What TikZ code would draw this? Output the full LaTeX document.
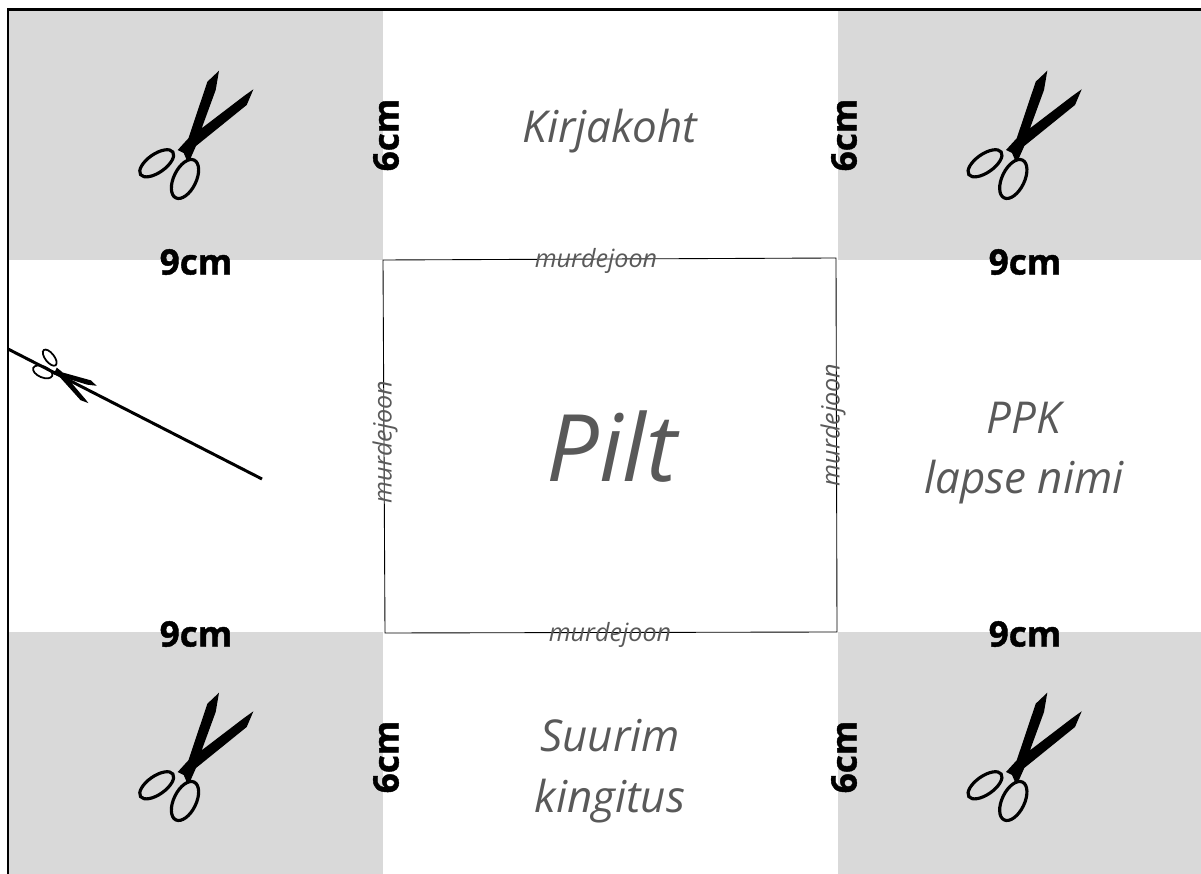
\documentclass[tikz,border=0pt]{standalone}
\usepackage{fontspec}
\setmainfont{Open Sans}
\newfontfamily\heavyfont[BoldFeatures={FakeBold=1.2}]{Open Sans}
\definecolor{cornergray}{HTML}{D9D9D9}
\definecolor{textgray}{HTML}{595959}
\tikzset{
    sizelabel/.style={font=\heavyfont\bfseries\fontsize{20}{24}\selectfont,text=black,inner sep=0pt},
    foldlabel/.style={font=\itshape\fontsize{14.3}{16}\selectfont,text=textgray,inner sep=0pt},
    fieldlabel/.style={font=\itshape\fontsize{25}{34.5}\selectfont,text=textgray,inner sep=0pt,align=center},
    scissors/.pic={
        \fill (32.3,-79.3) -- (20.7,-68.3) -- (1.7,-11.7) -- (-9,0) -- (-3,3) -- (0,10) -- (4,8) -- (9.3,-4) -- (60,-45) -- (66.7,-60.7) -- (57.3,-54) -- (15,-21.7) -- (29,-60) -- cycle;
        \draw[line width=\scissorline] (-30,13.3) ellipse [x radius=19.7,y radius=9.2,rotate=35];
        \draw[line width=\scissorline] (-1.7,29) [rotate around={-26:(-1.7,29)}] ellipse [x radius=11.2,y radius=21];
    }
}
\def\scissorline{1.8pt}
\begin{document}
\begin{tikzpicture}[x=0.02cm,y=-0.02cm]
    \useasboundingbox (0,0) rectangle (1201,874);

    % Fold corners
    \coordinate (TL) at (383,260);
    \coordinate (TR) at (836,258);
    \coordinate (BR) at (837,632);
    \coordinate (BL) at (385,633);
    % Cut line
    \coordinate (CutA) at (8,349);
    \coordinate (CutB) at (262,479);

    % Fill corners
    \fill[cornergray] (9,11) rectangle (383,260);
    \fill[cornergray] (838,11) rectangle (1201,260);
    \fill[cornergray] (9,632) rectangle (383,874);
    \fill[cornergray] (838,632) rectangle (1201,874);

    % Draw edges
    \draw[line width=1.7pt] (8,874) -- (8,10) -- (1201,10);
    \draw[line width=0.5pt] (TL) -- (TR) -- (BR) -- (BL) -- cycle;
    \draw[line width=1.7pt] (CutA) -- (CutB);

    % Scissors
    \foreach \x/\y in {186.7/150, 1015/150, 186.7/772, 1015/772}
        \pic at (\x,\y) {scissors};
    \def\scissorline{1pt}
    \pic[scale=0.49,rotate=-87] at (57,372) {scissors};

    % Size labels
    \foreach \name/\x/\y in {w1/196/262, w2/1025/262, w3/196/634, w4/1025/634}
        \node[sizelabel] (\name) at (\x,\y) {9cm};
    \foreach \name/\x/\y in {h1/386/135, h2/844/135, h3/386/757, h4/844/757}
        \node[sizelabel,rotate=90] (\name) at (\x,\y) {6cm};

    % Fold labels
    \node[foldlabel] (foldtop) at (596,261) {murdejoon};
    \node[foldlabel] (foldbottom) at (610,635) {murdejoon};
    \node[foldlabel,rotate=90] (foldleft) at (385,442) {murdejoon};
    \node[foldlabel,rotate=90] (foldright) at (833,425) {murdejoon};

    % Fields
    \node[fieldlabel] (verse) at (610,131) {Kirjakoht};
    \node[fieldlabel] (gift) at (610,771) {Suurim\\kingitus};
    \node[fieldlabel] (name) at (1024,453) {PPK\\lapse nimi};
    \node[fieldlabel,font=\itshape\fontsize{53}{60}\selectfont] (picture) at (612,447) {Pilt};
\end{tikzpicture}
\end{document}
